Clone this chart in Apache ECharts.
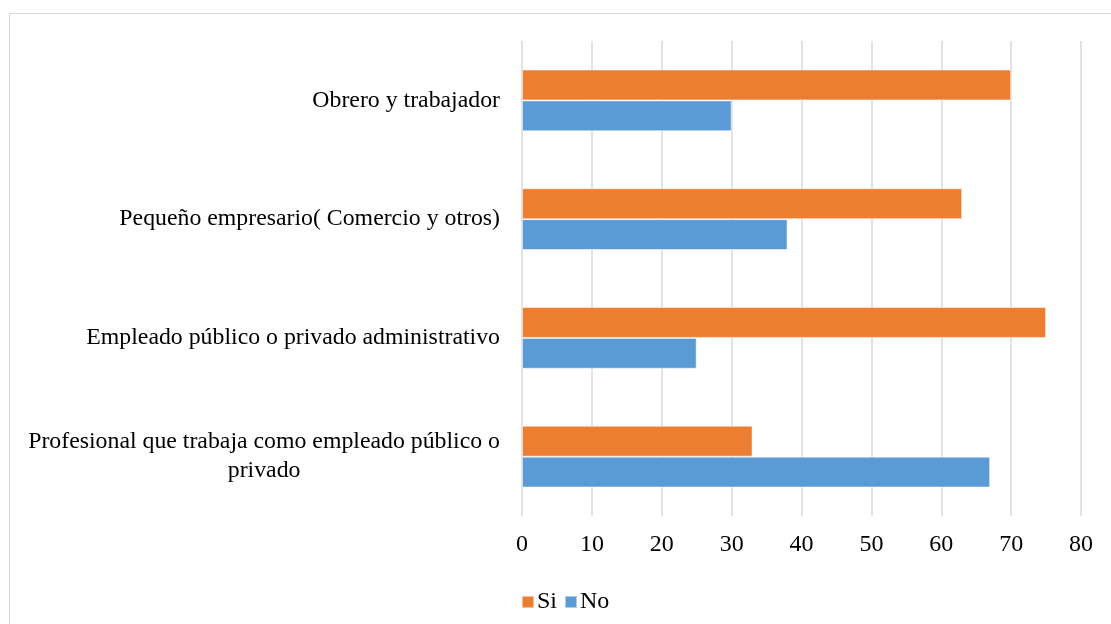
<!DOCTYPE html>
<html>
<head>
<meta charset="utf-8">
<script src="https://cdn.jsdelivr.net/npm/echarts@6/dist/echarts.min.js"></script>
<style>html,body{margin:0;padding:0;background:#fff;}#c{width:1111px;height:624px;}</style>
</head>
<body>
<div id="c"></div>
<script>
const categories = [
  'Profesional que trabaja como empleado público o\nprivado',
  'Empleado público o privado administrativo',
  'Pequeño empresario( Comercio y otros)',
  'Obrero y trabajador'
];
const siValues = [33, 75, 63, 70];
const noValues = [67, 25, 38, 30];
const xTicks = [0, 10, 20, 30, 40, 50, 60, 70, 80];

const chart = echarts.init(document.getElementById('c'));
const font = '"Liberation Serif", "Times New Roman", serif';
chart.setOption({
  animation: false,
  backgroundColor: '#fff',
  graphic: [{
    type: 'rect', left: 7, top: 11,
    shape: { width: 1200, height: 700 },
    style: { fill: 'none', stroke: '#d9d9d9', lineWidth: 1.2 },
    silent: true
  }],
  grid: { left: 522, top: 41, width: 559, height: 475 },
  legend: {
    data: ['Si', 'No'],
    left: 516, top: 585,
    itemWidth: 12, itemHeight: 12, itemGap: 7,
    icon: 'rect',
    textStyle: { fontFamily: font, fontSize: 24, color: '#000', padding: [0, 0, 0, -2] }
  },
  xAxis: {
    type: 'value', min: 0, max: 80, interval: 10,
    axisLine: { show: false }, axisTick: { show: false },
    axisLabel: { fontFamily: font, fontSize: 24, color: '#000', margin: 17,
      formatter: v => xTicks.includes(v) ? String(v) : '' },
    splitLine: { lineStyle: { color: '#d9d9d9', width: 1.5 } }
  },
  yAxis: {
    type: 'category', data: categories,
    axisLine: { show: false }, axisTick: { show: false },
    axisLabel: {
      margin: 22,
      formatter: v => v.split('\n').map(s => '{a|' + s + '}').join('\n'),
      rich: { a: { fontFamily: font, fontSize: 23.8, color: '#000', align: 'center', lineHeight: 29 } }
    }
  },
  series: [
    { name: 'Si', type: 'bar', data: siValues, barGap: '0%', barCategoryGap: '48%',
      itemStyle: { color: '#ED7D31', borderColor: 'rgba(255,255,255,0.5)', borderWidth: 1 } },
    { name: 'No', type: 'bar', data: noValues, barGap: '0%', barCategoryGap: '48%',
      itemStyle: { color: '#5B9BD5', borderColor: 'rgba(255,255,255,0.5)', borderWidth: 1 } }
  ]
});
</script>
</body>
</html>
